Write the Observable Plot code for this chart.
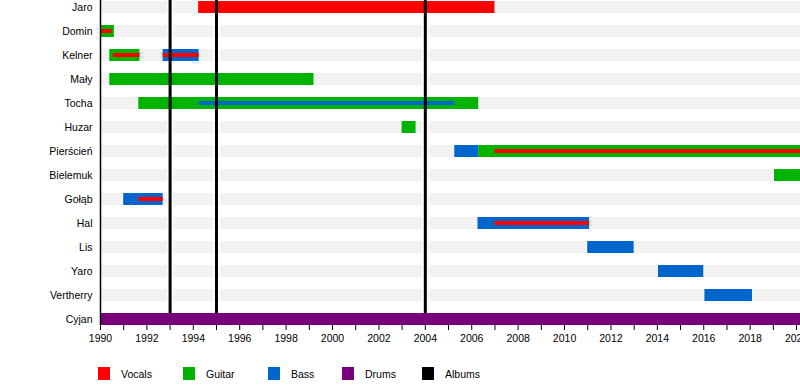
<!DOCTYPE html>
<html>
<head>
<meta charset="utf-8">
<script src="https://cdn.jsdelivr.net/npm/d3@7"></script>
<script src="https://cdn.jsdelivr.net/npm/@observablehq/plot@0.6"></script>
<style>
  body { margin: 0; background: #fff; font-family: "Liberation Sans", Arial, sans-serif; }
  #chart { position: relative; width: 800px; height: 385px; overflow: hidden; }
  #legend { position: absolute; left: 0; top: 367px; width: 800px; height: 14px; }
  .item { position: absolute; top: 0; height: 13px; font-size: 10.5px; color: #000; }
  .sw { position: absolute; left: 0; top: 0; width: 12px; height: 13px; }
  .lb { position: absolute; left: 23px; top: 0; line-height: 15px; white-space: nowrap; }
</style>
</head>
<body>
<div id="chart"></div>
<script>
// ---- data ----
const members = ["Jaro","Domin","Kelner","Mały","Tocha","Huzar","Pierścień","Bielemuk","Gołąb","Hal","Lis","Yaro","Vertherry","Cyjan"];
const roles = ["Vocals","Guitar","Bass","Drums","Albums"];
const roleColors = ["#ff0000","#00b300","#0066cc","#780078","#000000"];
// main periods: [member, role, start, end]
const periods = [
  ["Jaro","Vocals",1994.23,2007.0],
  ["Domin","Guitar",1990.0,1990.6],
  ["Kelner","Guitar",1990.4,1991.7],
  ["Kelner","Bass",1992.7,1994.25],
  ["Mały","Guitar",1990.4,1999.2],
  ["Tocha","Guitar",1991.65,2006.3],
  ["Huzar","Guitar",2003.0,2003.6],
  ["Pierścień","Bass",2005.27,2006.3],
  ["Pierścień","Guitar",2006.3,2020.2],
  ["Bielemuk","Guitar",2019.05,2020.2],
  ["Gołąb","Bass",1991.0,1992.7],
  ["Hal","Bass",2006.27,2011.08],
  ["Lis","Bass",2011.0,2013.0],
  ["Yaro","Bass",2014.05,2016.0],
  ["Vertherry","Bass",2016.05,2018.1],
  ["Cyjan","Drums",1990.0,2020.2]
];
// secondary (thin) periods: [member, role, start, end]
const secondary = [
  ["Domin","Vocals",1990.0,1990.5],
  ["Kelner","Vocals",1990.55,1991.7],
  ["Kelner","Vocals",1992.7,1994.25],
  ["Tocha","Bass",1994.25,2005.27],
  ["Pierścień","Vocals",2007.0,2020.2],
  ["Gołąb","Vocals",1991.65,1992.7],
  ["Hal","Vocals",2007.0,2011.08]
];
const albums = [1993, 1995, 2004];
const yearStart = 1990, yearEnd = 2020.17;
const tickYears = d3.range(1990, 2021);

// ---- build ----
const toObj = ([member, role, start, end]) => ({member, role, start, end});
const main = periods.map(toObj);
const thin = secondary.map(toObj);
const bg = members.map(m => ({member: m, start: yearStart, end: yearEnd}));
const color = {domain: roles, range: roleColors};

const plot = Plot.plot({
  width: 800,
  height: 350,
  marginLeft: 100,
  marginRight: 0,
  marginTop: 0,
  marginBottom: 25,
  style: {fontFamily: "'Liberation Sans', Arial, sans-serif", fontSize: "10.5px", background: "#fff", overflow: "hidden"},
  x: {domain: [yearStart, yearEnd], label: null},
  y: {domain: members, range: [-5, 331], paddingInner: 0.5, paddingOuter: 0.25, label: null},
  color,
  marks: [
    Plot.barX(bg, {y: "member", x1: "start", x2: "end", fill: "#f2f2f2"}),
    Plot.ruleX(albums, {stroke: "#fff", strokeWidth: 6}),
    Plot.barX(main.filter(d => d.role !== "Drums"), {y: "member", x1: "start", x2: "end", fill: "role"}),
    Plot.barX(thin, {y: "member", x1: "start", x2: "end", fill: "role", insetTop: 4, insetBottom: 4}),
    Plot.ruleX(albums, {stroke: "#000", strokeWidth: 3}),
    Plot.barX(main.filter(d => d.role === "Drums"), {y: "member", x1: "start", x2: "end", fill: "role"}),
    Plot.ruleX([yearStart], {stroke: "#000", strokeWidth: 1.5}),
    Plot.axisY({tickSize: 0, tickPadding: 8, label: null, fontSize: 10.5}),
    Plot.axisX({ticks: tickYears, tickSize: 5, tickPadding: 4, label: null,
      tickFormat: d => d % 2 ? "" : String(d), fontSize: 10.5})
  ]
});
document.getElementById("chart").appendChild(plot);

// legend
const legend = document.createElement("div");
legend.id = "legend";
const lefts = [98, 183, 268, 342, 422];
roles.forEach((r, i) => {
  const it = document.createElement("div");
  it.className = "item";
  it.style.left = lefts[i] + "px";
  const sw = document.createElement("div");
  sw.className = "sw";
  sw.style.background = roleColors[i];
  const lb = document.createElement("span");
  lb.className = "lb";
  lb.textContent = r;
  it.appendChild(sw); it.appendChild(lb);
  legend.appendChild(it);
});
document.getElementById("chart").appendChild(legend);
</script>
</body>
</html>
